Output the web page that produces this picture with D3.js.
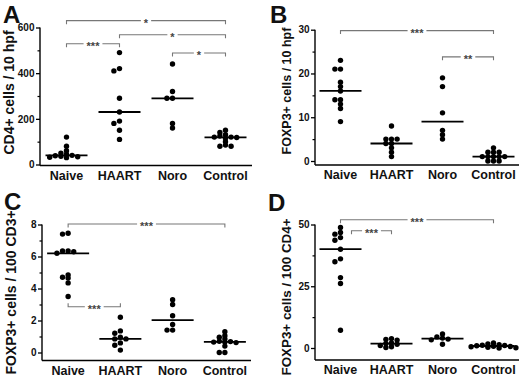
<!DOCTYPE html>
<html>
<head>
<meta charset="utf-8">
<script src="https://cdn.jsdelivr.net/npm/d3@7"></script>
<style>
  body { margin: 0; background: #fff; }
  svg { display: block; font-family: Arial, "Liberation Sans", sans-serif; font-weight: bold; }
</style>
</head>
<body>
<div id="chart"></div>
<script>
/* four column-scatter panels (A-D) with median lines and significance brackets */

const groups = ["Naive", "HAART", "Noro", "Control"];

// one inner array per group, same order as groups
const cd4PerHpf = [
    [120, 80, 60, 50, 45, 40, 38, 36, 34, 32, 30],
    [490, 420, 410, 290, 230, 190, 180, 150, 110],
    [440, 320, 290, 290, 180, 160],
    [150, 140, 130, 125, 120, 120, 118, 115, 100, 85, 80, 80]
];
const foxp3PerHpf = [
    [23, 21, 21, 18, 17, 16, 14, 14, 13, 12, 9],
    [8, 5, 5, 5, 4, 4, 3, 2, 1],
    [19, 17, 11, 7, 6, 5],
    [3, 2, 2, 2, 1, 1, 1, 1, 1, 0, 0, 0]
];
const foxp3PerCd3 = [
    [7.45, 7.4, 6.35, 6.35, 6.3, 6.2, 4.85, 4.7, 4.65, 4.35, 3.5],
    [2.2, 1.35, 1.2, 0.95, 0.85, 0.85, 0.6, 0.45, 0.15],
    [3.3, 3.0, 2.3, 1.75, 1.4, 1.4],
    [1.3, 1.05, 0.95, 0.85, 0.7, 0.68, 0.65, 0.65, 0.62, 0.4, 0, 0]
];
const foxp3PerCd4 = [
    [48.8, 46.8, 46.1, 44.7, 43.6, 40, 36.1, 34.9, 28.5, 26.1, 7.2],
    [3.8, 3.5, 3.2, 2.0, 1.8, 1.5, 1.0, 0.5, 0.2],
    [5.7, 4.5, 4.0, 3.6, 3.3, 1.5],
    [2.0, 1.6, 1.3, 1.1, 1.0, 0.9, 0.7, 0.6, 0.5, 0.3, 0.1, 0.0]
];

// labelled ticks and the small unlabelled ones in between
const ticksA = [0, 200, 400, 600], minorA = [100, 300, 500];
const ticksB = [0, 10, 20, 30], minorB = [5, 15, 25];
const ticksC = [0, 2, 4, 6, 8], minorC = [1, 3, 5, 7];
const ticksD = [0, 25, 50], minorD = [12.5, 37.5];

// significance brackets: [from, to, level, stars]
const sigA = [["Naive", "Control", 630, "*"], ["HAART", "Control", 568, "*"],
              ["Naive", "HAART", 529, "***"], ["Noro", "Control", 488, "*"]];
const sigB = [["Naive", "Control", 29.8, "***"], ["Noro", "Control", 23.8, "**"]];
const sigC = [["Naive", "Control", 8.03, "***"], ["Naive", "HAART", 2.86, "***"]];
const sigD = [["Naive", "Control", 51.9, "***"], ["Naive", "HAART", 47.5, "***"]];

const width = 520, height = 377;

let svg = d3.select("#chart")
    .append("svg")
    .attr("width", width)
    .attr("height", height);

const panels = [
    {letter: "A", lx: 3, ly: 22.5, values: cd4PerHpf, label: "CD4+ cells / 10 hpf", labSize: 14, ticks: ticksA, minor: minorA,
     sig: sigA, max: 600, left: 40, right: 252, top: 27.5, zero: 164.5, base: 165.5, labX: 14, labY: 92.5},
    {letter: "B", lx: 270, ly: 22.5, values: foxp3PerHpf, label: "FOXP3+ cells / 10 hpf", labSize: 12.5, ticks: ticksB, minor: minorB,
     sig: sigB, max: 30, left: 315, right: 519, top: 29.7, zero: 161, base: 165, labX: 290.5, labY: 91},
    {letter: "C", lx: 4, ly: 210, values: foxp3PerCd3, label: "FOXP3+ cells / 100 CD3+", labSize: 14, ticks: ticksC, minor: minorC,
     sig: sigC, max: 8, left: 42, right: 251, top: 224.5, zero: 352.5, base: 360.5, labX: 16, labY: 292.5,
     flip: [1]},
    {letter: "D", lx: 268, ly: 211, values: foxp3PerCd4, label: "FOXP3+ cells / 100 CD4+", labSize: 13.4, ticks: ticksD, minor: minorD,
     sig: sigD, max: 50, left: 315, right: 519, top: 224.5, zero: 348, base: 360, labX: 291, labY: 297,
     shift: {1: 11}}
];

// place dots in columns so that close values sit side by side
function swarm(vals, y, step, gap) {
    const placed = [];
    const order = [0, -1, 1, -2, 2, -3, 3, -4, 4, -5, 5];
    return vals.slice().sort((a, b) => b - a).map(v => {
        const py = y(v);
        let col = 0;
        for (const c of order) {
            if (!placed.some(p => p.col === c && Math.abs(p.py - py) < gap)) { col = c; break; }
        }
        placed.push({col, py});
        return {v, py, dx: col * step};
    });
}

panels.forEach(p => {
    const g = svg.append("g");

    const x = d3.scaleBand()
        .domain(groups)
        .range([p.left, p.right]);
    const cx = d => x(d) + x.bandwidth() / 2;

    const y = d3.scaleLinear()
        .domain([0, p.max])
        .range([p.zero, p.top]);

    // y axis: labelled ticks, minor ticks, then the spine down to the x axis
    let ya = g.append("g")
        .attr("transform", `translate(${p.left},0)`)
        .call(d3.axisLeft(y).tickValues(p.ticks).tickSize(4).tickPadding(1.5).tickFormat(d3.format("~g")));
    ya.select(".domain").remove();
    ya.selectAll("line").attr("stroke", "#000").attr("stroke-width", 1.3);
    ya.selectAll("text").style("font-size", "10px").style("font-family", "Arial, 'Liberation Sans', sans-serif")
        .style("font-weight", "bold").attr("fill", "#111");

    let ym = g.append("g")
        .attr("transform", `translate(${p.left},0)`)
        .call(d3.axisLeft(y).tickValues(p.minor).tickSize(2.5).tickFormat(""));
    ym.select(".domain").remove();
    ym.selectAll("line").attr("stroke", "#000").attr("stroke-width", 1.2);

    g.append("line")
        .attr("x1", p.left).attr("x2", p.left)
        .attr("y1", y(p.max)).attr("y2", p.base)
        .attr("stroke", "#000").attr("stroke-width", 1.4);

    // x axis: plain line with the group names under it
    g.append("line")
        .attr("x1", p.left).attr("x2", p.right)
        .attr("y1", p.base).attr("y2", p.base)
        .attr("stroke", "#000").attr("stroke-width", 1.6);

    let xa = g.append("g")
        .attr("transform", `translate(0,${p.base})`)
        .call(d3.axisBottom(x).tickSize(0).tickPadding(5.5));
    xa.select(".domain").remove();
    xa.selectAll("text").style("font-size", "12.5px").style("font-family", "Arial, 'Liberation Sans', sans-serif")
        .style("font-weight", "bold").attr("fill", "#111");

    // y axis title
    g.append("text")
        .attr("transform", `translate(${p.labX},${p.labY}) rotate(-90)`)
        .attr("text-anchor", "middle")
        .style("font-size", p.labSize + "px")
        .attr("fill", "#111")
        .text(p.label);

    // panel letter
    g.append("text")
        .attr("x", p.lx).attr("y", p.ly)
        .style("font-size", "24px")
        .attr("fill", "#111")
        .text(p.letter);

    // dots and medians
    groups.forEach((grp, i) => {
        const vals = p.values[i];
        const pts = swarm(vals, y, 5.6, 3);
        g.selectAll(null)
            .data(pts)
            .join("circle")
            .attr("cx", d => cx(grp) + d.dx)
            .attr("cy", d => d.py)
            .attr("r", 2.7)
            .attr("fill", "#000");

        const med = d3.median(vals);
        g.append("line")
            .attr("x1", cx(grp) - 21).attr("x2", cx(grp) + 21)
            .attr("y1", y(med)).attr("y2", y(med))
            .attr("stroke", "#000").attr("stroke-width", 1.8);
    });

    // significance brackets
    p.sig.forEach((s, i) => {
        const dir = (p.flip && p.flip.includes(i)) ? -1 : 1;
        const x1 = cx(s[0]) + ((p.shift && p.shift[i]) || 0);
        const x2 = cx(s[1]);
        const yy = y(s[2]);
        const mid = (x1 + x2) / 2;

        let t = g.append("text")
            .attr("x", mid).attr("y", yy + 6)
            .attr("text-anchor", "middle")
            .style("font-size", "11px")
            .attr("fill", "#444")
            .text(s[3]);
        const w = t.node().getComputedTextLength();

        g.append("path")
            .attr("d", `M${x1},${yy + dir * 3.5}V${yy}H${mid - w / 2 - 3}M${mid + w / 2 + 3},${yy}H${x2}V${yy + dir * 3.5}`)
            .attr("fill", "none")
            .attr("stroke", "#777")
            .attr("stroke-width", 1.1);
    });
});
</script>
</body>
</html>
